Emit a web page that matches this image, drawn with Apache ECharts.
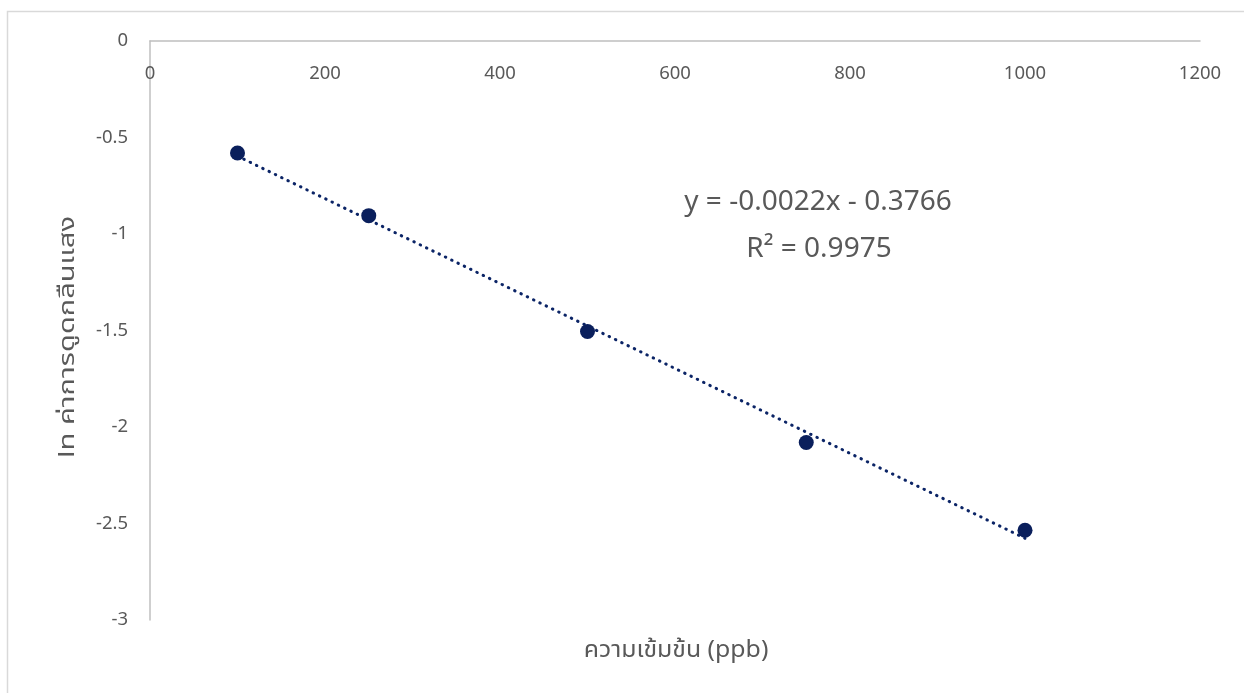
<!DOCTYPE html>
<html><head><meta charset="utf-8">
<script src="https://cdn.jsdelivr.net/npm/echarts@6/dist/echarts.min.js"></script>
<style>html,body{margin:0;padding:0;background:#fff}#c{width:1244px;height:693px}</style>
</head><body><div id="c"></div>
<script>
const concentrations = [100, 250, 500, 750, 1000];
const lnAbsorbance = [-0.58, -0.905, -1.505, -2.08, -2.535];
const trendSlope = -0.0022;
const trendIntercept = -0.3766;
const trendRange = [100, 1000];
const equationLabel = 'y = -0.0022x - 0.3766';
const r2Label = 'R² = 0.9975';
const xTitle = 'ความเข้มข้น (ppb)';
const yTitle = 'ln ค่าการดูดกลืนแสง';

const font = '"Noto Sans", "Noto Sans Thai", sans-serif';
const chart = echarts.init(document.getElementById('c'));
const trendData = trendRange.map(x => [x, trendSlope * x + trendIntercept]);
chart.setOption({
  animation: false,
  grid: {left: 150, right: 44, top: 41, bottom: 73},
  xAxis: {
    type: 'value', min: 0, max: 1200, interval: 200, position: 'top',
    axisLine: {lineStyle: {color: '#BFBFBF', width: 1.5}},
    axisTick: {show: false}, splitLine: {show: false},
    axisLabel: {inside: true, color: '#595959', fontSize: 18.5, margin: 23, fontFamily: font,
      formatter: v => String(v)}
  },
  yAxis: {
    type: 'value', min: -3, max: 0, interval: 0.5,
    axisLine: {show: true, lineStyle: {color: '#BFBFBF', width: 1.5}},
    axisTick: {show: false}, splitLine: {show: false},
    axisLabel: {color: '#595959', fontSize: 18.5, margin: 22, fontFamily: font,
      formatter: v => String(v)}
  },
  series: [
    {type: 'line', data: trendData, symbol: 'none', z: 2,
     lineStyle: {color: '#0B2466', width: 3, type: [0.5, 6.5], cap: 'round'}},
    {type: 'scatter', data: concentrations.map((x, i) => [x, lnAbsorbance[i]]),
     symbolSize: 15, z: 3, itemStyle: {color: '#0A1F5C', opacity: 1}}
  ],
  graphic: [
    {type: 'rect', shape: {x: 7.5, y: 11.5, width: 1300, height: 800}, silent: true,
     style: {fill: 'none', stroke: '#D9D9D9', lineWidth: 1.5}, z: -1},
    {type: 'text', x: 818, y: 202, style: {text: equationLabel, fill: '#595959', fontSize: 28, fontFamily: font, align: 'center', verticalAlign: 'middle'}},
    {type: 'text', x: 819, y: 249, style: {text: r2Label, fill: '#595959', fontSize: 28, fontFamily: font, align: 'center', verticalAlign: 'middle'}},
    {type: 'text', x: 676, y: 650, scaleX: 1.08, style: {text: xTitle, fill: '#595959', fontSize: 23, fontFamily: font, align: 'center', verticalAlign: 'middle'}},
    {type: 'text', x: 68, y: 337, rotation: Math.PI / 2, scaleX: 1.32, style: {text: yTitle, fill: '#595959', fontSize: 22, fontFamily: font, align: 'center', verticalAlign: 'middle'}}
  ]
});
</script></body></html>
